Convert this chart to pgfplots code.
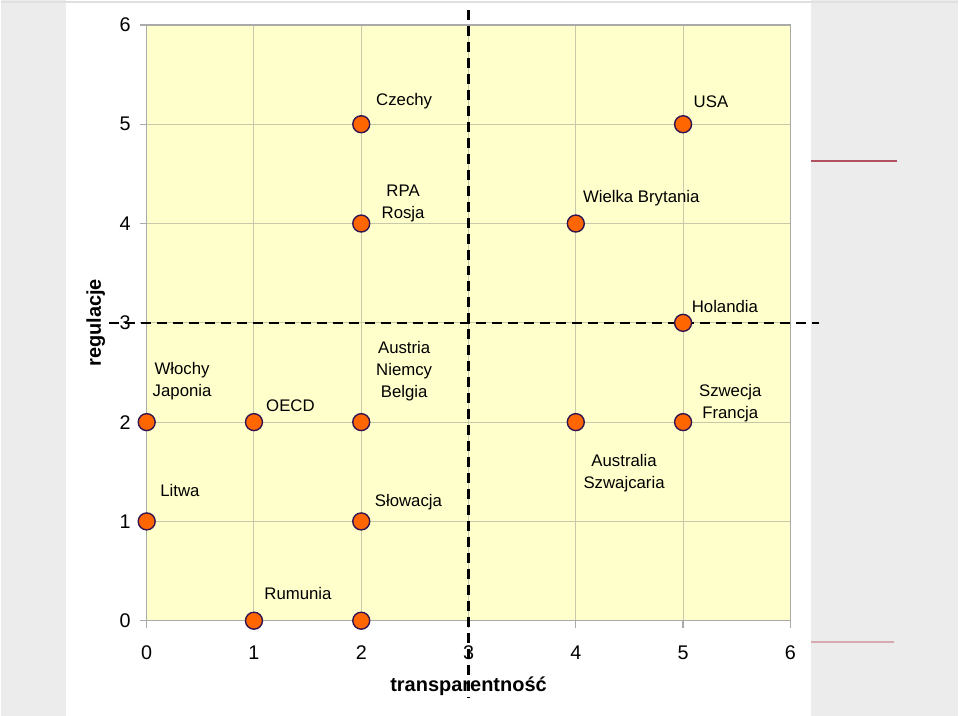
\documentclass[border=0pt]{standalone}
\usepackage{pgfplots}
\pgfplotsset{compat=1.18}
\usepackage{fontspec}
\setmainfont{Liberation Sans}
\definecolor{bgyellow}{RGB}{255,255,204}
\definecolor{gridc}{RGB}{200,200,170}
\definecolor{axc}{RGB}{170,170,170}
\definecolor{orangec}{RGB}{255,102,0}
\definecolor{purplec}{RGB}{50,20,80}
\definecolor{redl}{RGB}{176,80,96}
\definecolor{redl2}{RGB}{215,170,178}
\definecolor{stripe}{RGB}{236,236,236}
\begin{document}
\begin{tikzpicture}[x=0.5pt,y=0.5pt]
\fill[white] (0,0) rectangle (959,717);
\fill[stripe] (0,0) rectangle (65,717);
\fill[stripe] (812,0) rectangle (959,717);
\draw[black!12, line width=1pt] (0,715) -- (959,715);
\draw[redl, line width=1pt] (812,556) -- (898,556);
\draw[redl2, line width=1pt] (812,74) -- (895,74);
\begin{axis}[at={(73pt,47.5pt)}, anchor=south west, scale only axis,
  width=322.5pt, height=298.5pt,
  xmin=0, xmax=6, ymin=0, ymax=6,
  xtick={0,1,2,3,4,5,6}, ytick={0,1,2,3,4,5,6},
  grid=major, grid style={color=gridc, line width=0.5pt},
  axis line style={color=axc, line width=0.6pt},
  tick align=outside, major tick length=3.5pt, tick style={color=axc, line width=0.6pt},
  tick pos=left,
  axis background/.style={fill=bgyellow},
  clip=false,
  /pgf/number format/assume math mode=true,
  xticklabel style={font=\fontsize{9.9}{11}\selectfont, yshift=-5.5pt},
  yticklabel style={font=\fontsize{9.9}{11}\selectfont, xshift=-1pt},
  xlabel={transparentność}, ylabel={regulacje},
  xlabel style={at={(axis description cs:0.5,-0.1106)}, anchor=center, font=\fontsize{10}{12}\bfseries},
  ylabel style={at={(axis description cs:-0.079,0.5)}, anchor=center, rotate=0, font=\fontsize{10}{12}\bfseries},
]
\addplot[only marks, mark=*, mark size=4.25pt, mark options={fill=orangec, draw=purplec, line width=0.7pt}]
coordinates {(2,5) (5,5) (2,4) (4,4) (5,3) (0,2) (1,2) (2,2) (4,2) (5,2) (0,1) (2,1) (1,0) (2,0)};
\addplot[black, line width=1.3pt, dash pattern=on 5pt off 3pt] coordinates {(3,6.15) (3,-0.78)};
\addplot[black, line width=1.3pt, dash pattern=on 5pt off 3pt] coordinates {(-0.35,3) (6.27,3)};
\begin{scope}[every node/.style={font=\fontsize{8.4}{11}\selectfont, align=center, inner sep=0pt}]
\node at (axis cs:2.40,5.23) {Czechy};
\node at (axis cs:5.26,5.23) {USA};
\node at (axis cs:2.39,4.20) {RPA\\Rosja};
\node at (axis cs:4.61,4.26) {Wielka Brytania};
\node at (axis cs:5.39,3.16) {Holandia};
\node at (axis cs:0.33,2.41) {Włochy\\Japonia};
\node at (axis cs:1.34,2.17) {OECD};
\node at (axis cs:2.40,2.51) {Austria\\Niemcy\\Belgia};
\node at (axis cs:5.44,2.195) {Szwecja\\Francja};
\node at (axis cs:0.31,1.31) {Litwa};
\node at (axis cs:2.44,1.19) {Słowacja};
\node at (axis cs:4.45,1.49) {Australia\\Szwajcaria};
\node at (axis cs:1.41,0.27) {Rumunia};
\end{scope}
\end{axis}
\end{tikzpicture}
\end{document}
